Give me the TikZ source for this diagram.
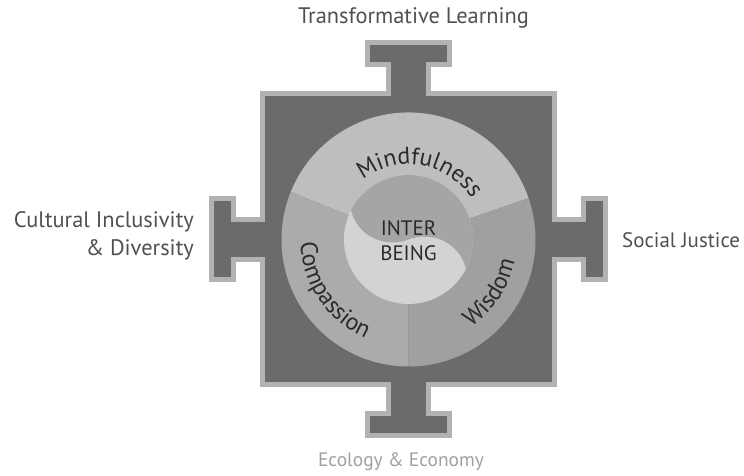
\documentclass[tikz,border=0pt]{standalone}
\usepackage{fontspec}
\setmainfont{PT Sans}
\usetikzlibrary{decorations.text}

\definecolor{crossdark}{HTML}{6B6B6B}
\definecolor{framegray}{HTML}{B2B2B2}
\definecolor{mindcol}{HTML}{BEBEBE}
\definecolor{compcol}{HTML}{ABABAB}
\definecolor{wiscol}{HTML}{A0A0A0}
\definecolor{yindark}{HTML}{A5A5A5}
\definecolor{yinlight}{HTML}{D3D3D3}
\definecolor{labelgray}{HTML}{505050}
\definecolor{ecogray}{HTML}{A0A0A0}
\definecolor{ringink}{HTML}{2A2A2A}

\newcommand{\ringfont}{\fontsize{24}{24}\selectfont}

\begin{document}
\begin{tikzpicture}[
  x=1bp, y=1bp,
  frame/.style={draw=framegray, fill=crossdark, line width=5bp, line join=miter},
  outerlabel/.style={text=labelgray, font=\fontsize{22.5}{28}\selectfont, inner sep=0pt},
  ringtext/.style={decorate, decoration={text along path, text align=center,
      text color=ringink, text={#1}}}
]
\useasboundingbox (-408.5,-236.5) rectangle (335.5,239.5);

% cross with four T-arms
\draw[frame] (145.5,-145.5) \foreach \a in {0,90,180,270} {
  -- ([rotate=\a]145.5,-20) -- ([rotate=\a]174.5,-20) -- ([rotate=\a]174.5,-40.5)
  -- ([rotate=\a]196.5,-40.5) -- ([rotate=\a]196.5,40.5) -- ([rotate=\a]174.5,40.5)
  -- ([rotate=\a]174.5,20) -- ([rotate=\a]145.5,20) -- ([rotate=\a]145.5,145.5)
} -- cycle;

% three sectors
\fill[mindcol] (0,0) -- (19:127) arc[start angle=19, end angle=158, radius=127] -- cycle;
\fill[compcol] (0,0) -- (158:127) arc[start angle=158, end angle=270, radius=127] -- cycle;
\fill[wiscol] (0,0) -- (270:127) arc[start angle=270, end angle=379, radius=127] -- cycle;

% inter-being centre
\fill[yinlight] (0,0) circle[radius=64.5];
\fill[yindark] (153:64.5) .. controls (-50,0) and (-20,-8) .. (0,0)
  .. controls (20,8) and (50,0) .. (-27:64.5)
  arc[start angle=-27, end angle=153, radius=64.5] -- cycle;
\node[align=center, text=ringink, font=\fontsize{21}{25}\selectfont] (interbeing) at (0,-1) {INTER\\BEING};

% ring words
\path[ringtext={|\ringfont|Mindfulness}] (130:75) arc[start angle=130, end angle=30, radius=75];
\path[ringtext={|\ringfont|Compassion}] (164:108) arc[start angle=164, end angle=264, radius=108];
\path[ringtext={|\ringfont|Wisdom}] (-83:108) arc[start angle=-83, end angle=17, radius=108];

% outer labels
\node[outerlabel] (transf) at (5,221.5) {Transformative Learning};
\node[outerlabel, anchor=east, align=right] (cultural) at (-214.5,3.5) {Cultural Inclusivity\\\& Diversity};
\node[outerlabel, anchor=west, font=\fontsize{21}{26}\selectfont] (social) at (213.5,-0.5) {Social Justice};
\node[outerlabel, text=ecogray, font=\fontsize{19.5}{24}\selectfont] (ecology) at (-7.5,-222.5) {Ecology \& Economy};

\end{tikzpicture}
\end{document}
